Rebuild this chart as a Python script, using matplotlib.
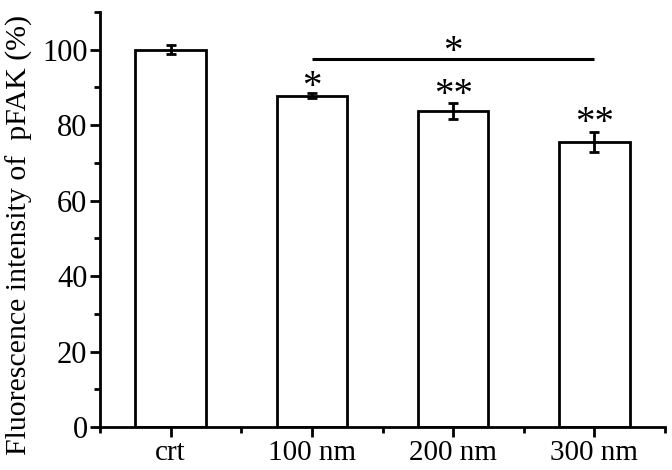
import matplotlib
matplotlib.use("Agg")
import matplotlib.pyplot as plt
from matplotlib.ticker import MultipleLocator, FixedLocator

categories = ["crt", "100 nm", "200 nm", "300 nm"]
values = [100.0, 87.8, 83.8, 75.5]
errors = [1.2, 0.7, 2.2, 2.7]
stars = ["", "*", "**", "**"]
star_y = [0, 92.0, 90.0, 82.5]
bracket_y = 97.6
bracket_star_y = 101.3

plt.rcParams["font.family"] = ["Liberation Serif", "DejaVu Serif"]
fig = plt.figure(figsize=(6.72, 4.70), dpi=100)
ax = fig.add_axes([100/672, 1-427/470, 565/672, 415/470])

x = list(range(1, len(categories)+1))
ax.bar(x, values, width=0.5, color="white", edgecolor="black", linewidth=2.0, zorder=2)
ax.errorbar(x, values, yerr=errors, fmt="none", ecolor="black", elinewidth=2.0,
            capsize=3.5, capthick=2.0, zorder=3)

star_shift = -2.1
for xi, s, sy in zip(x, stars, star_y):
    if s:
        ax.text(xi, sy + star_shift, s, ha="center", va="center", fontsize=28)

ax.plot([2, 4], [bracket_y, bracket_y], color="black", linewidth=2.2, solid_capstyle="butt")
ax.text(3, bracket_star_y + star_shift, "*", ha="center", va="center", fontsize=28)

ax.set_xlim(0.5, 4.5)
ax.set_ylim(0, 110)
ax.set_xticks(x)
ax.set_xticklabels(categories, fontsize=21)
ax.xaxis.set_minor_locator(FixedLocator([0.5, 1.5, 2.5, 3.5, 4.5]))
ax.set_yticks([0, 20, 40, 60, 80, 100])
ax.yaxis.set_minor_locator(MultipleLocator(10))
ax.tick_params(axis="y", labelsize=22, pad=2)
ax.tick_params(which="major", direction="out", length=7, width=2.0)
ax.tick_params(which="minor", direction="out", length=4, width=2.0)
ax.tick_params(axis="x", pad=2)

for side in ["top", "right"]:
    ax.spines[side].set_visible(False)
for side in ["left", "bottom"]:
    ax.spines[side].set_linewidth(2.0)

ax.set_ylabel("Fluorescence intensity of  pFAK (%)", fontsize=21.5)
ax.yaxis.set_label_coords(-0.118, 0.463)

fig.savefig("out.png", dpi=100)
